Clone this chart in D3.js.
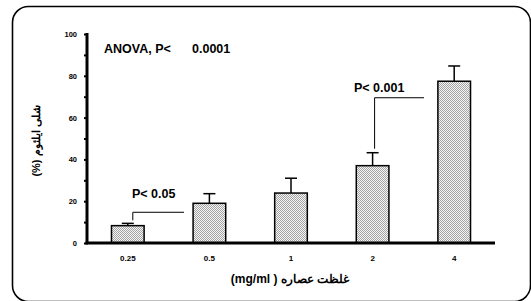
<!DOCTYPE html>
<html><head><meta charset="utf-8">
<script src="https://cdn.jsdelivr.net/npm/d3@7"></script>
<style>body{margin:0;background:#fff}svg{display:block}text{font-family:Arial,"Liberation Sans",sans-serif;font-weight:bold}</style>
</head><body>
<svg id="c" width="531" height="301"></svg>
<script>
const categories = ["0.25","0.5","1","2","4"];
const means = [8.3, 19, 23.9, 37, 77.4];
const errors = [1.1, 4.6, 7.1, 6.2, 7.3];
const yTicks = [0,20,40,60,80,100];
const yLabel = "شلی ایلئوم (%)";
const xLabel = "غلظت عصاره (  mg/ml)";

const svg = d3.select("#c");
const defs = svg.append("defs");
const pat = defs.append("pattern").attr("id","dots").attr("patternUnits","userSpaceOnUse").attr("width",2).attr("height",2);
pat.append("rect").attr("width",2).attr("height",2).attr("fill","#f4f4f4");
pat.append("rect").attr("x",0).attr("y",0).attr("width",1).attr("height",1).attr("fill","#a4a4a4");
pat.append("rect").attr("x",1).attr("y",1).attr("width",1).attr("height",1).attr("fill","#a4a4a4");

svg.append("rect").attr("x",12.5).attr("y",6.5).attr("width",518).attr("height",295).attr("rx",16)
  .attr("fill","none").attr("stroke","#000").attr("stroke-width",1.6);

const x = d3.scaleBand().domain(categories).range([87,495]).paddingInner(0.6).paddingOuter(0.3);
const y = d3.scaleLinear().domain([0,100]).range([243,34]);

// bars
svg.selectAll("rect.bar").data(means).join("rect").attr("class","bar")
  .attr("x",(d,i)=>x(categories[i])).attr("width",x.bandwidth())
  .attr("y",d=>y(d)).attr("height",d=>y(0)-y(d))
  .attr("fill","url(#dots)").attr("stroke","#000").attr("stroke-width",1.5);

// error bars
const eg = svg.append("g").attr("stroke","#000").attr("stroke-width",1.5);
means.forEach((m,i)=>{
  const cx = x(categories[i]) + x.bandwidth()/2;
  eg.append("line").attr("x1",cx).attr("x2",cx).attr("y1",y(m)).attr("y2",y(m+errors[i]));
  eg.append("line").attr("x1",cx-6).attr("x2",cx+6).attr("y1",y(m+errors[i])).attr("y2",y(m+errors[i]));
});

// y axis
const yAxis = d3.axisLeft(y).tickValues(d3.range(0,101,10)).tickSize(3).tickFormat(d=>yTicks.includes(d)?d:"");
const ya = svg.append("g").attr("transform","translate(87,0)").call(yAxis);
ya.select(".domain").attr("stroke-width",3).attr("d","M0,"+(y(100)-1)+"V"+(y(0)+1));
ya.selectAll(".tick line").attr("stroke-width",2).attr("x1",1);
ya.selectAll(".tick text").attr("font-size",7.5).attr("x",-10).attr("font-weight","bold");

// x axis
const xAxis = d3.axisBottom(x).tickSize(0).tickPadding(12);
const xa = svg.append("g").attr("transform","translate(0,243)").call(xAxis);
xa.select(".domain").attr("stroke-width",3).attr("d","M85.5,0H495");
xa.selectAll(".tick text").attr("font-size",8).attr("font-weight","bold");
svg.selectAll("g.tick text").attr("font-family","Arial,'Liberation Sans',sans-serif");

// labels
svg.append("text").attr("x",290).attr("y",283).attr("text-anchor","middle").attr("font-size",12)
  .attr("direction","rtl").attr("unicode-bidi","embed").text(xLabel);
svg.append("text").attr("transform","translate(40,141) rotate(-90)").attr("text-anchor","middle").attr("font-size",11)
  .attr("direction","rtl").text(yLabel);

// annotations
svg.append("text").attr("x",104).attr("y",53).attr("font-size",12.5).text("ANOVA, P<");
svg.append("text").attr("x",192).attr("y",53).attr("font-size",12.5).text("0.0001");
svg.append("text").attr("x",132).attr("y",198).attr("font-size",12.5).text("P< 0.05");
svg.append("text").attr("x",354).attr("y",92).attr("font-size",12.5).text("P< 0.001");

const c0 = x(categories[0]) + x.bandwidth()/2;
const c3 = x(categories[3]) + x.bandwidth()/2;
svg.append("path").attr("fill","none").attr("stroke","#000").attr("stroke-width",1)
  .attr("d",`M${c0+5},${y(means[0]+errors[0])-3}V${y(14.7)}H184`);
svg.append("path").attr("fill","none").attr("stroke","#000").attr("stroke-width",1)
  .attr("d",`M${c3+2},${y(means[3]+errors[3])-4}V${y(69.5)}H424`);
</script>
</body></html>
